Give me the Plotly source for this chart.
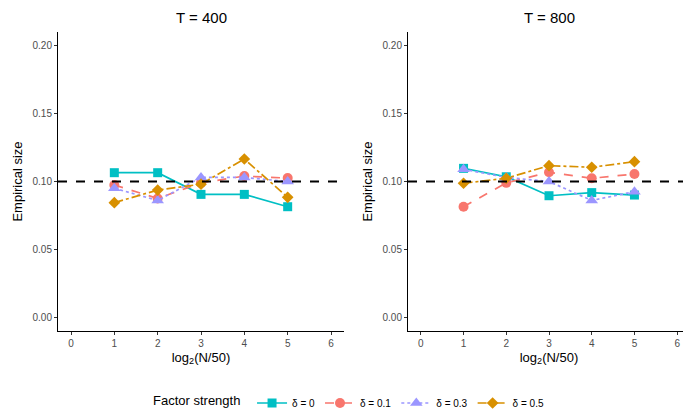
import plotly.graph_objects as go

x_vals = [1, 2, 3, 4, 5]
series_names = ["δ = 0", "δ = 0.1", "δ = 0.3", "δ = 0.5"]

# T = 400
t400 = {
    "δ = 0":   [0.1065, 0.1065, 0.0905, 0.0905, 0.0814],
    "δ = 0.1": [0.0974, 0.0875, 0.0990, 0.1040, 0.1025],
    "δ = 0.3": [0.0950, 0.0860, 0.1030, 0.1030, 0.1000],
    "δ = 0.5": [0.0844, 0.0937, 0.0980, 0.1166, 0.0883],
}
# T = 800
t800 = {
    "δ = 0":   [0.1097, 0.1035, 0.0895, 0.0918, 0.0900],
    "δ = 0.1": [0.0814, 0.0990, 0.1068, 0.1024, 0.1055],
    "δ = 0.3": [0.1090, 0.1030, 0.1000, 0.0860, 0.0925],
    "δ = 0.5": [0.0987, 0.1024, 0.1117, 0.1105, 0.1146],
}
panel_titles = ["T = 400", "T = 800"]
ref_level = 0.10

colors = {"δ = 0": "#00BFC4", "δ = 0.1": "#F8766D", "δ = 0.3": "#9B96FF", "δ = 0.5": "#D89000"}
dashes = {"δ = 0": "solid", "δ = 0.1": "dash", "δ = 0.3": "dot", "δ = 0.5": "dashdot"}
symbols = {"δ = 0": "square", "δ = 0.1": "circle", "δ = 0.3": "triangle-up", "δ = 0.5": "diamond"}
msizes = {"δ = 0": 9, "δ = 0.1": 10, "δ = 0.3": 11, "δ = 0.5": 9}

fig = go.Figure()
for i, data in enumerate([t400, t800]):
    xa = "x" if i == 0 else "x2"
    ya = "y" if i == 0 else "y2"
    for name in series_names:
        fig.add_trace(go.Scatter(
            x=x_vals, y=data[name], mode="lines+markers", name=name,
            legendgroup=name, showlegend=(i == 0),
            line=dict(color=colors[name], dash=dashes[name], width=1.7),
            marker=dict(symbol=symbols[name], size=msizes[name], color=colors[name]),
            xaxis=xa, yaxis=ya,
        ))
    fig.add_trace(go.Scatter(
        x=[-0.3, 6.3], y=[ref_level, ref_level], mode="lines", showlegend=False,
        line=dict(color="black", dash="dash", width=2.2), hoverinfo="skip",
        xaxis=xa, yaxis=ya,
    ))

# page body has an 8px margin; lay the figure out so it lands where the reference is
OFF = 8
W, H = 691 - OFF, 410 - OFF
L, R, T = 58 - OFF, 1, 32 - OFF
B = H - (331 - OFF)
PW = W - L - R
PH = H - T - B

def px_x(p):
    return (p - OFF - L) / PW

def px_y(p):
    return 1 - (p - OFF - T) / PH

axis_common = dict(showgrid=False, zeroline=False, showline=True, linecolor="black", linewidth=1,
                   ticks="outside", ticklen=3, tickcolor="#333333", automargin=False,
                   tickfont=dict(size=10, color="#4D4D4D", family="Liberation Sans, Arial"))
xcommon = dict(axis_common, range=[-0.3, 6.3], tickvals=[0, 1, 2, 3, 4, 5, 6],
               title=dict(text="log<sub>2</sub>(N/50)", font=dict(size=13, color="black"), standoff=4))
ycommon = dict(axis_common, range=[-0.0103, 0.2103], tickvals=[0, 0.05, 0.1, 0.15, 0.2],
               tickformat=".2f",
               title=dict(text="Empirical size", font=dict(size=13, color="black"), standoff=6))

fig.update_layout(
    width=W, height=H,
    paper_bgcolor="white", plot_bgcolor="white",
    margin=dict(l=L, r=R, t=T, b=B, autoexpand=False),
    font=dict(family="Liberation Sans, Arial", color="black"),
    xaxis=dict(xcommon, domain=[0, px_x(344)], anchor="y"),
    yaxis=dict(ycommon, domain=[0, 1], anchor="x"),
    xaxis2=dict(xcommon, domain=[px_x(408), 1], anchor="y2"),
    yaxis2=dict(ycommon, domain=[0, 1], anchor="x2"),
    legend=dict(orientation="h", x=px_x(350), xanchor="center", y=px_y(403), yanchor="middle",
                title=dict(text="Factor strength ", font=dict(size=13)),
                font=dict(size=10), itemwidth=30, tracegroupgap=0),
    annotations=[
        dict(text=panel_titles[0], x=px_x(201), y=px_y(17), xref="paper", yref="paper",
             showarrow=False, font=dict(size=15, color="black"), xanchor="center", yanchor="middle"),
        dict(text=panel_titles[1], x=px_x(549), y=px_y(17), xref="paper", yref="paper",
             showarrow=False, font=dict(size=15, color="black"), xanchor="center", yanchor="middle"),
    ],
)

fig.write_html("out.html")
